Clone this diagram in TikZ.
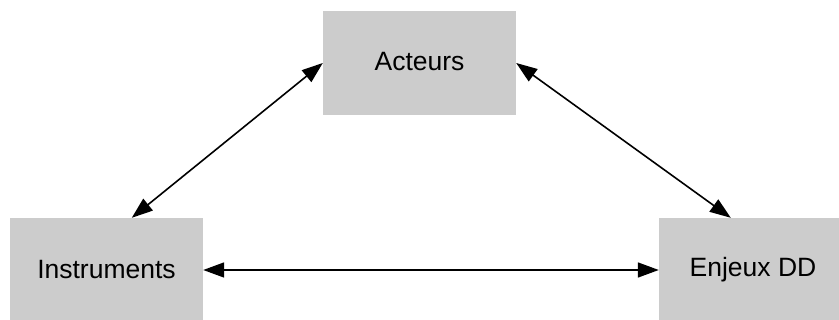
\documentclass[tikz,border=0pt]{standalone}
\usepackage{fontspec}
\setmainfont{Liberation Sans}
\usetikzlibrary{arrows.meta}
\begin{document}
\begin{tikzpicture}[x=1pt,y=-1pt,
  box/.style={fill=black!20, draw=none, minimum width=193pt, minimum height=104pt,
    inner sep=0pt, font=\fontsize{26.5}{31}\selectfont},
  link/.style={line width=1.6pt, {Triangle[length=21pt,width=15pt]}-{Triangle[length=21pt,width=15pt]}}]
  \useasboundingbox (0,0) rectangle (839,320);
  \clip (0,0) rectangle (839,320);
  % the three grey boxes
  \node[box] (act) at (419.5,63) {\raisebox{3pt}{Acteurs}};
  \node[box] (ins) at (106.5,270) {\raisebox{1pt}{Instruments}};
  \node[box] (enj) at (755.5,270) {\hspace*{-5pt}\raisebox{1pt}{Enjeux DD}};
  % double-headed links between them
  \draw[link] ([xshift=122pt]ins.north west) -- (act.west);
  \draw[link] (act.east) -- ([xshift=72pt]enj.north west);
  \draw[link] (ins.east) -- (enj.west);
\end{tikzpicture}
\end{document}
